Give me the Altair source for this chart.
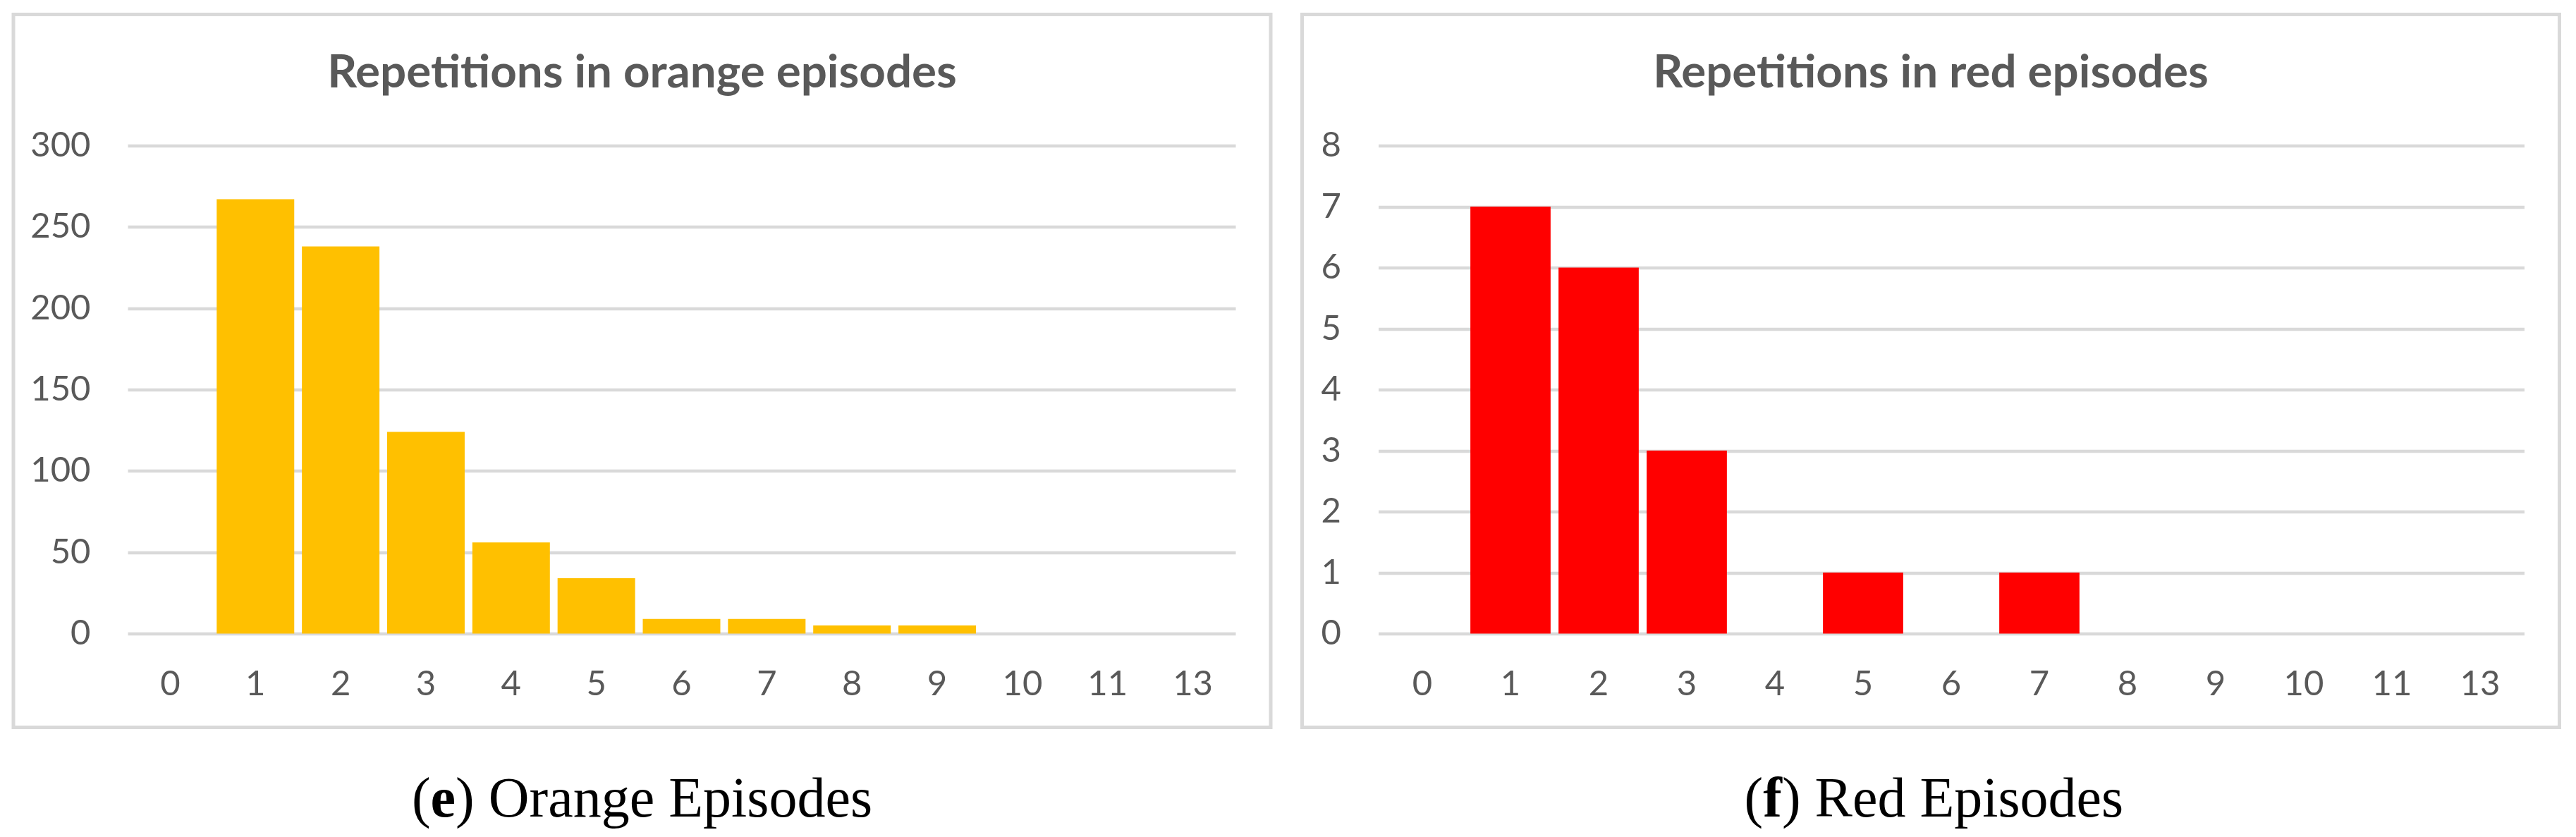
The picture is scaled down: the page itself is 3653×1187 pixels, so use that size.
import altair as alt
import pandas as pd

# ---- data ----
categories = ["0", "1", "2", "3", "4", "5", "6", "7", "8", "9", "10", "11", "13"]
orange_counts = [0, 267, 238, 124, 56, 34, 9, 9, 5, 5, 0, 0, 0]
red_counts = [0, 7, 6, 3, 0, 1, 0, 1, 0, 0, 0, 0, 0]
orange_ticks = [0, 50, 100, 150, 200, 250, 300]
red_ticks = [0, 1, 2, 3, 4, 5, 6, 7, 8]
titles = ["Repetitions in orange episodes", "Repetitions in red episodes"]
caption_letters = ["e", "f"]
caption_texts = [") Orange Episodes", ") Red Episodes"]

# ---- styling ----
PW, PH = 1783, 1011
TEXT = "#595959"
GRID = "#D9D9D9"
SANS = "Lato"
SERIF = "Liberation Serif"
CAP_FS = 80


def panel(values, ticks, ymax, color, title, letter, rest, x_left, label_right):
    df = pd.DataFrame({"cat": categories, "n": values})
    x = alt.X(
        "cat:N",
        sort=categories,
        scale=alt.Scale(range=[x_left, 1733], paddingInner=0.09, paddingOuter=0.045),
        axis=alt.Axis(
            title=None, labelAngle=0, domain=False, ticks=False, tickSize=0,
            labelPadding=0, offset=-61, labelBaseline="middle", grid=False,
            labelFont=SANS, labelFontSize=49, labelColor=TEXT,
        ),
    )
    y = alt.Y(
        "n:Q",
        scale=alt.Scale(domain=[0, ymax], range=[878, 186], nice=False, zero=True),
        axis=alt.Axis(
            title=None, values=ticks, format="d", domain=False, ticks=False,
            tickSize=0, labelPadding=0, offset=-label_right, grid=True,
            gridColor=GRID, gridWidth=4.5, labelFont=SANS, labelFontSize=49,
            labelColor=TEXT,
        ),
    )
    bars = alt.Chart(df).mark_bar(color=color).encode(x=x, y=y)

    head = alt.Chart(pd.DataFrame({"t": [title]})).mark_text(
        font=SANS, fontSize=65.5, fontWeight="bold", color=TEXT, align="center",
        baseline="alphabetic"
    ).encode(text="t:N", x=alt.value(PW / 2), y=alt.value(103))

    # caption "(x) ..." with bold letter, centred under the panel
    w_open = 0.333 * CAP_FS
    w_letter = (0.444 if letter == "e" else 0.333) * CAP_FS
    w_rest = {") Orange Episodes": 7.387, ") Red Episodes": 5.944}[rest] * CAP_FS
    total = w_open + w_letter + w_rest
    xs = PW / 2 - total / 2
    cap_y = 1137
    c1 = alt.Chart(pd.DataFrame({"t": ["("]})).mark_text(
        font=SERIF, fontSize=CAP_FS, color="black", align="left", baseline="alphabetic"
    ).encode(text="t:N", x=alt.value(xs), y=alt.value(cap_y))
    c2 = alt.Chart(pd.DataFrame({"t": [letter]})).mark_text(
        font=SERIF, fontSize=CAP_FS, fontWeight="bold", color="black", align="left",
        baseline="alphabetic"
    ).encode(text="t:N", x=alt.value(xs + w_open), y=alt.value(cap_y))
    c3 = alt.Chart(pd.DataFrame({"t": [rest]})).mark_text(
        font=SERIF, fontSize=CAP_FS, color="black", align="left", baseline="alphabetic"
    ).encode(text="t:N", x=alt.value(xs + w_open + w_letter), y=alt.value(cap_y))

    return alt.layer(bars, head, c1, c2, c3).properties(width=PW, height=PH)


left = panel(orange_counts, orange_ticks, 300, "#FFC000", titles[0],
             caption_letters[0], caption_texts[0], 162, 109)
right = panel(red_counts, red_ticks, 8, "#FF0000", titles[1],
              caption_letters[1], caption_texts[1], 108, 55)

chart = (
    alt.hconcat(left, right, spacing=38.5)
    .properties(padding={"left": 8, "top": 9.5, "right": 0, "bottom": 0})
    .configure_view(stroke=GRID, strokeWidth=5)
)

chart.save("out.html", embed_options={"renderer": "svg", "actions": False})
